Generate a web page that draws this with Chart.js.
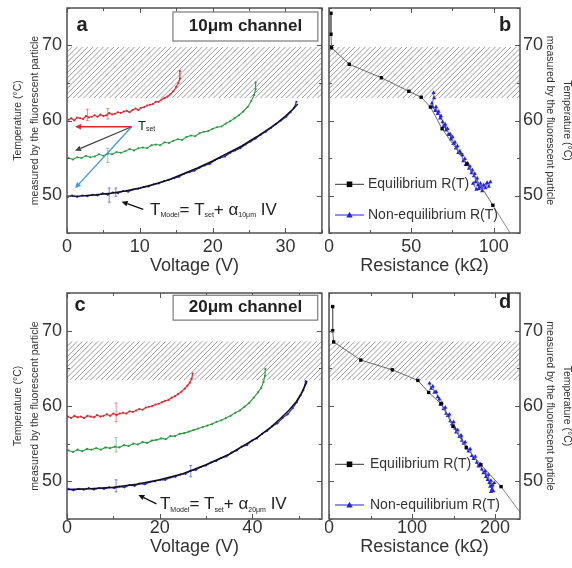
<!DOCTYPE html>
<html><head><meta charset="utf-8">
<script src="https://cdn.jsdelivr.net/npm/chart.js@4.4.0/dist/chart.umd.min.js"></script>
<style>
html,body{margin:0;padding:0;background:#fff;overflow:hidden;width:572px;height:568px;}
canvas{position:absolute;}
</style></head><body>
<canvas id="ca" style="left:0;top:0" width="323" height="281"></canvas>
<canvas id="cb" style="left:325px;top:0" width="247" height="281"></canvas>
<canvas id="cc" style="left:0;top:280px" width="323" height="282"></canvas>
<canvas id="cd" style="left:325px;top:280px" width="247" height="282"></canvas>
<script>
const FONT = "'Liberation Sans', Arial, Helvetica, sans-serif";
Chart.defaults.font.family = FONT;
Chart.defaults.color = '#333';

// ---------------- Panel a : 10 µm channel (Voltage V, Temperature °C) ----------------
const aRedV = [0.2,0.6,1.0,1.4,1.8,2.2,2.6,3.0,3.4,3.8,4.2,4.6,5.0,5.4,5.8,6.2,6.6,7.0,7.4,7.8,8.2,8.6,9.0,9.4,9.8,10.2,10.6,11.0,11.4,11.8,12.2,12.6,13.0,13.4,13.8,14.2,14.6,15.0,15.3,15.5,15.5];
const aRedT = [60.1,60.3,60.0,60.4,60.3,60.2,60.6,60.4,60.5,60.7,60.5,60.8,60.6,60.7,61.0,60.8,60.9,61.1,61.0,61.2,61.3,61.1,61.4,61.6,61.4,61.7,61.8,62.0,62.1,62.2,62.5,62.5,62.8,63.0,63.2,63.5,63.9,64.5,65.0,65.6,66.6];
const aGreenV = [0.2,0.8,1.4,2.0,2.6,3.2,3.8,4.4,5.0,5.6,6.2,6.8,7.4,8.0,8.6,9.2,9.8,10.4,11.0,11.6,12.2,12.8,13.4,14.0,14.6,15.2,15.8,16.4,17.0,17.6,18.2,18.8,19.4,20.0,20.6,21.2,21.8,22.4,23.0,23.6,24.2,24.8,25.3,25.7,25.9,25.9];
const aGreenT = [55.0,54.8,55.1,55.0,55.3,55.1,55.2,55.5,55.3,55.6,55.5,55.8,55.7,55.9,56.2,56.0,56.3,56.4,56.3,56.7,56.8,56.7,57.1,57.0,57.3,57.5,57.4,57.8,58.0,57.9,58.3,58.5,58.6,58.9,59.1,59.2,59.6,59.9,60.3,60.7,61.2,61.8,62.6,63.4,64.2,65.1];
const aBlueV = [0.1,0.7,1.4,2.1,2.8,3.5,4.2,4.9,5.6,6.3,7.0,7.7,8.4,9.1,9.8,10.5,11.2,11.9,12.6,13.3,14.0,14.7,15.4,16.1,16.8,17.5,18.2,18.9,19.6,20.3,21.0,21.7,22.4,23.1,23.8,24.5,25.2,25.9,26.6,27.3,28.0,28.7,29.4,30.1,30.7,31.2,31.5];
const aBlueT = [49.8,50.0,49.8,50.0,49.9,50.1,50.0,50.3,50.1,50.4,50.3,50.6,50.5,50.8,50.9,51.1,51.2,51.5,51.6,51.9,52.1,52.3,52.5,52.9,53.1,53.3,53.7,54.0,54.2,54.7,55.0,55.2,55.7,56.0,56.3,56.8,57.2,57.6,58.1,58.5,59.0,59.5,60.0,60.5,61.1,61.7,62.5];
const aModelV = [0,2,4,6,8,10,12,14,16,18,20,22,24,26,28,29,30,31,31.7];
const aModelT = [49.9,49.95,50.1,50.3,50.6,51.0,51.5,52.1,52.9,53.7,54.6,55.6,56.6,57.8,59.1,59.8,60.6,61.5,62.2];
// error bars (V, low T, high T)
const aRedErrV = [2.8, 5.6];   const aRedErrLo = [60.0, 60.2];   const aRedErrHi = [61.5, 61.6];
const aGreenErrV = [5.6];      const aGreenErrLo = [54.4];       const aGreenErrHi = [56.3];
const aBlueErrV = [5.8, 6.7];  const aBlueErrLo = [49.1, 49.9];  const aBlueErrHi = [51.0, 51.0];
const aBand = [63.0, 69.8];

// ---------------- Panel b : R(T), 10 µm (Resistance kΩ, Temperature °C) ----------------
const bEqR = [1.2,1.2,1.5,12.3,31.8,48.5,56,61.6,68.7,83.8,99.5];
const bEqT = [74.3,71.5,69.7,67.5,65.7,63.9,63.1,61.8,58.9,54.2,48.7];
const bExtR = [99.5,112];
const bExtT = [48.7,44.3];
const bNeqR = [63.5,63.8,62.5,63.0,64.5,65.0,66.0,66.5,67.5,68.0,69.0,69.5,70.5,71.0,72.0,72.5,73.5,74.0,75.0,75.5,76.5,77.0,78.0,78.5,79.5,80.0,81.0,81.5,82.5,83.0,84.0,85.0,85.5,86.5,87.0,88.0,88.5,89.0,90.0,90.5,91.0,92.0,92.5,93.0,94.0,95.0,96.0,97.0,98.0,89.5,87.5];
const bNeqT = [63.7,63.0,62.3,61.8,61.3,61.8,60.9,61.2,60.3,60.6,59.8,59.2,59.5,58.7,58.9,58.1,58.2,57.5,57.8,56.9,57.1,56.3,56.6,55.7,55.9,55.6,55.4,54.6,54.9,54.1,54.3,53.6,53.9,53.0,53.4,52.6,52.9,51.8,52.3,51.4,50.9,51.6,51.1,50.6,51.4,51.0,51.7,51.2,51.8,50.8,51.6];

// ---------------- Panel c : 20 µm channel ----------------
const cRedV = [0.2,0.9,1.6,2.3,3.0,3.7,4.4,5.1,5.8,6.5,7.2,7.9,8.6,9.3,10.0,10.7,11.4,12.1,12.8,13.5,14.2,14.9,15.6,16.3,17.0,17.7,18.4,19.1,19.8,20.5,21.2,21.9,22.6,23.3,24.0,24.7,25.4,26.0,26.5,26.9,27.1];
const cRedT = [58.6,58.4,58.7,58.5,58.6,58.4,58.7,58.6,58.5,58.8,58.6,58.7,58.9,58.7,59.0,58.8,59.0,59.1,59.0,59.3,59.2,59.4,59.6,59.5,59.8,59.9,60.0,60.2,60.3,60.5,60.7,60.8,61.1,61.3,61.6,61.9,62.3,62.7,63.1,63.6,64.3];
const cGreenV = [0.3,1.3,2.3,3.3,4.3,5.3,6.3,7.3,8.3,9.3,10.3,11.3,12.3,13.3,14.3,15.3,16.3,17.3,18.3,19.3,20.3,21.3,22.3,23.3,24.3,25.3,26.3,27.3,28.3,29.3,30.3,31.3,32.3,33.3,34.3,35.3,36.3,37.3,38.3,39.3,40.3,41.2,41.9,42.4,42.7,42.8];
const cGreenT = [54.1,53.9,54.2,54.0,54.3,54.2,54.4,54.2,54.5,54.4,54.6,54.5,54.8,54.7,55.0,54.9,55.2,55.1,55.4,55.5,55.7,55.6,56.0,56.0,56.3,56.4,56.6,56.8,57.0,57.2,57.4,57.6,57.9,58.1,58.4,58.7,59.1,59.4,59.9,60.4,61.1,61.8,62.4,63.2,64.0,64.9];
const cBlueV = [0.3,1.4,2.5,3.6,4.7,5.8,6.9,8.0,9.1,10.2,11.3,12.4,13.5,14.6,15.7,16.8,17.9,19.0,20.1,21.2,22.3,23.4,24.5,25.6,26.7,27.8,28.9,30.0,31.1,32.2,33.3,34.4,35.5,36.6,37.7,38.8,39.9,41.0,42.1,43.2,44.3,45.4,46.5,47.6,48.7,49.6,50.4,51.0,51.5];
const cBlueT = [49.0,48.8,49.0,48.9,49.1,48.9,49.1,49.0,49.2,49.1,49.3,49.2,49.5,49.4,49.7,49.6,49.9,50.0,50.2,50.2,50.5,50.6,50.9,51.0,51.4,51.5,51.9,52.1,52.5,52.7,53.1,53.3,53.8,54.1,54.6,54.8,55.4,55.7,56.3,56.7,57.3,57.7,58.4,58.9,59.7,60.5,61.4,62.1,63.3];
const cModelV = [0,5,10,15,20,25,30,35,38,41,44,46,48,49.5,50.5,51.3,51.8];
const cModelT = [48.9,49.0,49.2,49.6,50.2,51.0,52.2,53.6,54.7,55.8,57.2,58.3,59.5,60.6,61.6,62.6,63.3];
const cRedErrV = [10.6];         const cRedErrLo = [57.9];         const cRedErrHi = [60.4];
const cGreenErrV = [10.6];       const cGreenErrLo = [53.9];       const cGreenErrHi = [55.8];
const cBlueErrV = [10.6, 26.7];  const cBlueErrLo = [48.6, 50.6];  const cBlueErrHi = [50.2, 52.1];
const cBand = [63.4, 68.6];

// ---------------- Panel d : R(T), 20 µm ----------------
const dEqR = [4.4,4.4,5.6,38.3,76.3,107,120,135,149.3,165.3,182.9,207.2];
const dEqT = [73.2,70.0,68.5,66.1,64.8,63.4,61.8,60.3,57.3,54.5,52.2,49.3];
const dExtR = [207.2,232];
const dExtT = [49.3,45.6];
const dNeqR = [121,123,125,127,129,131,133,134,136,138,140,141,143,145,146,148,150,152,153,155,157,159,160,162,164,166,168,170,172,174,176,178,180,182,184,186,188,189,191,192,193,194,195,196,197,198,195,199];
const dNeqT = [63.0,62.3,62.6,61.8,61.9,61.2,60.9,60.2,60.4,59.6,59.8,59.0,58.7,58.9,58.0,57.6,57.9,57.0,56.5,56.8,55.9,56.1,55.4,55.0,55.2,54.4,54.0,54.3,53.4,53.0,53.3,52.5,52.0,52.3,51.6,51.1,51.4,50.6,50.2,50.9,49.8,49.3,50.1,48.9,49.5,48.7,48.6,49.8];

const yTitle = ['Temperature (\u00B0C)', 'measured by the fluorescent particle'];
const legendLabels = ['Equilibrium R(T)', 'Non-equilibrium R(T)'];

const C = { red:'#e5232f', green:'#2b9a40', blue:'#2626d6', black:'#111111', cyan:'#3a9ad6', gray:'#444444', neq:'#2020e8' };

function pts(xs, ys) { return xs.map((x, i) => ({ x: x, y: ys[i] })); }
function curve(label, xs, ys, color, w, r, err) {
  return { label, data: pts(xs, ys), showLine: true, borderColor: color, backgroundColor: color,
    borderWidth: w, pointRadius: r, pointBorderWidth: 0, pointBackgroundColor: color, pointHoverRadius: 0, err: err };
}
function eqSet(xs, ys) {
  return { label: legendLabels[0], data: pts(xs, ys), showLine: true, borderColor: '#6a6a6a', borderWidth: 1,
    pointStyle: 'rect', pointRadius: 2.4, pointBackgroundColor: '#000', pointBorderColor: '#000', pointBorderWidth: 0 };
}
function extSet(xs, ys) {
  return { label: 'fit', data: pts(xs, ys), showLine: true, borderColor: '#8a8a8a', borderWidth: 1, pointRadius: 0 };
}
function neqSet(xs, ys) {
  return { label: legendLabels[1], data: pts(xs, ys), showLine: true, borderColor: C.neq, borderWidth: 0.7,
    pointStyle: 'triangle', pointRadius: 2.4, pointBackgroundColor: C.neq, pointBorderColor: C.neq, pointBorderWidth: 0 };
}

function P(chart, x, y) { return [chart.scales.x.getPixelForValue(x), chart.scales.y.getPixelForValue(y)]; }
function drawItem(chart, it) {
  const ctx = chart.ctx;
  ctx.save();
  if (it.type === 'box') {
    const [x1, y1] = P(chart, it.x1, it.y1), [x2, y2] = P(chart, it.x2, it.y2);
    ctx.fillStyle = '#fff'; ctx.fillRect(x1, y1, x2 - x1, y2 - y1);
    ctx.strokeStyle = '#7a7a7a'; ctx.lineWidth = 1.2; ctx.strokeRect(x1, y1, x2 - x1, y2 - y1);
  } else if (it.type === 'text') {
    const [x, y] = P(chart, it.x, it.y);
    ctx.font = it.font; ctx.fillStyle = it.color || '#222'; ctx.textAlign = it.align || 'left'; ctx.textBaseline = 'middle';
    ctx.fillText(it.text, x, y);
  } else if (it.type === 'rich') {
    let [x, y] = P(chart, it.x, it.y);
    ctx.textAlign = 'left'; ctx.textBaseline = 'middle'; ctx.fillStyle = '#222';
    it.parts.forEach(([s, size, dy]) => { ctx.font = size + 'px ' + FONT; ctx.fillText(s, x, y + dy); x += ctx.measureText(s).width; });
  } else if (it.type === 'arrow') {
    const [x1, y1] = P(chart, it.x1, it.y1), [x2, y2] = P(chart, it.x2, it.y2);
    const a = Math.atan2(y2 - y1, x2 - x1), hl = 6, hw = 2.8;
    ctx.strokeStyle = it.color; ctx.fillStyle = it.color; ctx.lineWidth = 1.3;
    const bx = x2 - hl * Math.cos(a), by = y2 - hl * Math.sin(a);
    ctx.beginPath(); ctx.moveTo(x1, y1); ctx.lineTo(bx, by); ctx.stroke();
    ctx.beginPath(); ctx.moveTo(x2, y2);
    ctx.lineTo(bx + hw * Math.sin(a), by - hw * Math.cos(a));
    ctx.lineTo(bx - hw * Math.sin(a), by + hw * Math.cos(a));
    ctx.closePath(); ctx.fill();
  }
  ctx.restore();
}
function drawLegend(chart, lg) {
  const ctx = chart.ctx, ca = chart.chartArea;
  ctx.save();
  lg.rows.forEach((row) => {
    const ds = chart.data.datasets[row.ds];
    const y = ca.bottom - row.up;
    const x0 = ca.left + 6, x1 = ca.left + 35, xm = (x0 + x1) / 2;
    ctx.strokeStyle = row.ds === 0 ? '#333' : ds.borderColor; ctx.lineWidth = 1;
    ctx.beginPath(); ctx.moveTo(x0, y); ctx.lineTo(x1, y); ctx.stroke();
    ctx.fillStyle = ds.pointBackgroundColor;
    ctx.beginPath();
    if (ds.pointStyle === 'rect') { ctx.rect(xm - 2.8, y - 2.8, 5.6, 5.6); }
    else { ctx.moveTo(xm, y - 3.2); ctx.lineTo(xm + 3.2, y + 2.4); ctx.lineTo(xm - 3.2, y + 2.4); ctx.closePath(); }
    ctx.fill();
    ctx.font = '14px ' + FONT; ctx.fillStyle = '#333'; ctx.textAlign = 'left'; ctx.textBaseline = 'middle';
    ctx.fillText(ds.label, ca.left + lg.textX, y);
  });
  ctx.restore();
}
function isMult(v, s) { const q = v / s; return Math.abs(q - Math.round(q)) < 1e-6; }

const panelPlugin = {
  id: 'panel',
  beforeDatasetsDraw(chart, args, o) {
    const { ctx, chartArea: ca, scales } = chart;
    if (o.band) {
      const yt = scales.y.getPixelForValue(o.band[1]), yb = scales.y.getPixelForValue(o.band[0]);
      const h = yb - yt;
      ctx.save();
      ctx.beginPath(); ctx.rect(ca.left, yt, ca.right - ca.left, h); ctx.clip();
      ctx.strokeStyle = '#8e8e8e'; ctx.lineWidth = 0.9;
      ctx.beginPath();
      for (let x = ca.left - h; x < ca.right + 6; x += 5.2) { ctx.moveTo(x, yb); ctx.lineTo(x + h, yt); }
      ctx.stroke();
      ctx.restore();
    }
    // error bars of the measured curves
    ctx.save();
    ctx.lineWidth = 1;
    chart.data.datasets.forEach(ds => {
      if (!ds.err) return;
      ctx.strokeStyle = ds.borderColor; ctx.globalAlpha = 0.55;
      ctx.beginPath();
      ds.err.v.forEach((v, i) => {
        const x = scales.x.getPixelForValue(v);
        const y1 = scales.y.getPixelForValue(ds.err.lo[i]), y2 = scales.y.getPixelForValue(ds.err.hi[i]);
        ctx.moveTo(x, y1); ctx.lineTo(x, y2);
        ctx.moveTo(x - 1.5, y1); ctx.lineTo(x + 1.5, y1);
        ctx.moveTo(x - 1.5, y2); ctx.lineTo(x + 1.5, y2);
      });
      ctx.stroke();
    });
    ctx.restore();
  },
  afterDatasetsDraw(chart, args, o) {
    const { ctx, chartArea: ca, scales } = chart;
    ctx.save();
    ctx.strokeStyle = '#555'; ctx.lineWidth = 1;
    ctx.beginPath();
    scales.x.ticks.forEach(t => {
      if (!isMult(t.value, o.xMinor)) return;
      const p = Math.round(scales.x.getPixelForValue(t.value)) + 0.5;
      const L = isMult(t.value, o.xMajor) ? 5 : 3;
      ctx.moveTo(p, ca.bottom); ctx.lineTo(p, ca.bottom - L);
      ctx.moveTo(p, ca.top); ctx.lineTo(p, ca.top + L);
    });
    scales.y.ticks.forEach(t => {
      if (!isMult(t.value, 5)) return;
      const p = Math.round(scales.y.getPixelForValue(t.value)) + 0.5;
      const L = isMult(t.value, 10) ? 5 : 3;
      ctx.moveTo(ca.left, p); ctx.lineTo(ca.left + L, p);
      ctx.moveTo(ca.right, p); ctx.lineTo(ca.right - L, p);
    });
    ctx.stroke();
    ctx.strokeStyle = '#505050'; ctx.lineWidth = 1.5;
    ctx.strokeRect(ca.left, ca.top, ca.right - ca.left, ca.bottom - ca.top);
    ctx.restore();
    (o.items || []).forEach(it => drawItem(chart, it));
    if (o.legend) drawLegend(chart, o.legend);
  }
};

function xScale(min, max, step, major, title, h, pad) {
  return { type: 'linear', position: 'bottom', min, max,
    grid: { display: false, drawTicks: false }, border: { display: false },
    ticks: { stepSize: step, autoSkip: false, includeBounds: false, maxRotation: 0, padding: pad, font: { size: 18 }, color: '#333',
      callback: v => (isMult(v, major) ? String(v) : '') },
    title: { display: true, text: title, font: { size: 18 }, color: '#333', padding: { top: 0, bottom: 4 } },
    afterFit: s => { s.height = h; s.paddingLeft = 0; s.paddingRight = 0; } };
}
function yScale(pos) {
  const right = pos === 'right';
  return { type: 'linear', position: pos, min: 45, max: 75,
    grid: { display: false, drawTicks: false }, border: { display: false },
    ticks: { stepSize: 5, autoSkip: false, padding: right ? 3 : 5, font: { size: 18 }, color: '#333',
      callback: v => (isMult(v, 10) ? String(v) : '') },
    title: { display: true, text: yTitle, font: { size: 10.5, lineHeight: 1.6 }, color: '#333',
      padding: { top: right ? -3.4 : 10, bottom: 0 } },
    afterFit: s => { s.width = right ? 52 : 67; s.paddingTop = 0; s.paddingBottom = 0; } };
}
function makeChart(id, datasets, x, y, padding, panelOpts) {
  return new Chart(document.getElementById(id), {
    type: 'scatter',
    data: { datasets },
    options: {
      responsive: false, animation: false, devicePixelRatio: 1,
      layout: { padding },
      scales: { x, y },
      plugins: { legend: { display: false }, tooltip: { enabled: false }, panel: panelOpts },
      events: []
    },
    plugins: [panelPlugin]
  });
}

const bold = s => 'bold ' + s + 'px ' + FONT;
const E = (v, lo, hi) => ({ v, lo, hi });

// Panel a
makeChart('ca', [
  curve('T_Model', aModelV, aModelT, C.black, 1.5, 0),
  curve('T_set 60', aRedV, aRedT, C.red, 1.1, 1.1, E(aRedErrV, aRedErrLo, aRedErrHi)),
  curve('T_set 55', aGreenV, aGreenT, C.green, 1.1, 1.1, E(aGreenErrV, aGreenErrLo, aGreenErrHi)),
  curve('T_set 50', aBlueV, aBlueT, C.blue, 1.1, 1.1, E(aBlueErrV, aBlueErrLo, aBlueErrHi))
], xScale(0, 35, 5, 10, 'Voltage (V)', 48, 3), yScale('left'), { top: 8, right: 1, left: 0, bottom: 0 }, {
  band: aBand, xMinor: 5, xMajor: 10,
  items: [
    { type: 'text', x: 2.06, y: 72.7, text: 'a', font: bold(20), align: 'center' },
    { type: 'box', x1: 14.55, y1: 74.47, x2: 34.45, y2: 70.6 },
    { type: 'text', x: 24.5, y: 72.55, text: '10\u03BCm channel', font: bold(17), align: 'center' },
    { type: 'arrow', x1: 8.88, y1: 59.17, x2: 1.1, y2: 59.17, color: C.red },
    { type: 'arrow', x1: 8.88, y1: 59.17, x2: 1.1, y2: 55.97, color: C.gray },
    { type: 'arrow', x1: 8.88, y1: 59.17, x2: 1.1, y2: 50.96, color: C.cyan },
    { type: 'rich', x: 9.75, y: 59.2, parts: [['T', 13, 0], ['set', 7, 3]] },
    { type: 'arrow', x1: 10.47, y1: 48.16, x2: 7.5, y2: 49.17, color: '#111' },
    { type: 'rich', x: 11.4, y: 48.07, parts: [['T', 17, 0], ['Model', 7, 5], ['= T', 17, 0], ['set', 7, 5], ['+ \u03B1', 17, 0], ['10\u03BCm', 7, 5], [' IV', 17, 0]] }
  ]
});

// Panel b
makeChart('cb', [
  eqSet(bEqR, bEqT),
  neqSet(bNeqR, bNeqT),
  extSet(bExtR, bExtT)
], xScale(0, 116, 25, 50, 'Resistance (k\u03A9)', 48, 3), yScale('right'), { top: 8, right: 0, left: 2, bottom: 0 }, {
  band: aBand, xMinor: 25, xMajor: 50,
  items: [ { type: 'text', x: 107, y: 72.7, text: 'b', font: bold(20), align: 'center' } ],
  legend: { textX: 39, rows: [ { ds: 0, up: 48.7 }, { ds: 1, up: 18 } ] }
});

// Panel c
makeChart('cc', [
  curve('T_Model', cModelV, cModelT, C.black, 1.5, 0),
  curve('T_set 58', cRedV, cRedT, C.red, 1.1, 1.1, E(cRedErrV, cRedErrLo, cRedErrHi)),
  curve('T_set 54', cGreenV, cGreenT, C.green, 1.1, 1.1, E(cGreenErrV, cGreenErrLo, cGreenErrHi)),
  curve('T_set 49', cBlueV, cBlueT, C.blue, 1.1, 1.1, E(cBlueErrV, cBlueErrLo, cBlueErrHi))
], xScale(0, 55, 10, 20, 'Voltage (V)', 43, -2), yScale('left'), { top: 13, right: 1, left: 0, bottom: 0 }, {
  band: cBand, xMinor: 10, xMajor: 20,
  items: [
    { type: 'text', x: 2.8, y: 73.4, text: 'c', font: bold(20), align: 'center' },
    { type: 'box', x1: 22.9, y1: 74.7, x2: 54.1, y2: 71.4 },
    { type: 'text', x: 38.5, y: 73.05, text: '20\u03BCm channel', font: bold(17), align: 'center' },
    { type: 'arrow', x1: 19.3, y1: 47.0, x2: 15.4, y2: 48.2, color: '#111' },
    { type: 'rich', x: 20.06, y: 46.9, parts: [['T', 17, 0], ['Model', 7, 5], ['= T', 17, 0], ['set', 7, 5], ['+ \u03B1', 17, 0], ['20\u03BCm', 7, 5], [' IV', 17, 0]] }
  ]
});

// Panel d
makeChart('cd', [
  eqSet(dEqR, dEqT),
  neqSet(dNeqR, dNeqT),
  extSet(dExtR, dExtT)
], xScale(0, 230, 50, 100, 'Resistance (k\u03A9)', 43, -2), yScale('right'), { top: 13, right: 0, left: 2, bottom: 0 }, {
  band: cBand, xMinor: 50, xMajor: 100,
  items: [ { type: 'text', x: 212, y: 73.7, text: 'd', font: bold(20), align: 'center' } ],
  legend: { textX: 41, rows: [ { ds: 0, up: 54.7 }, { ds: 1, up: 14 } ] }
});
</script>
</body></html>
